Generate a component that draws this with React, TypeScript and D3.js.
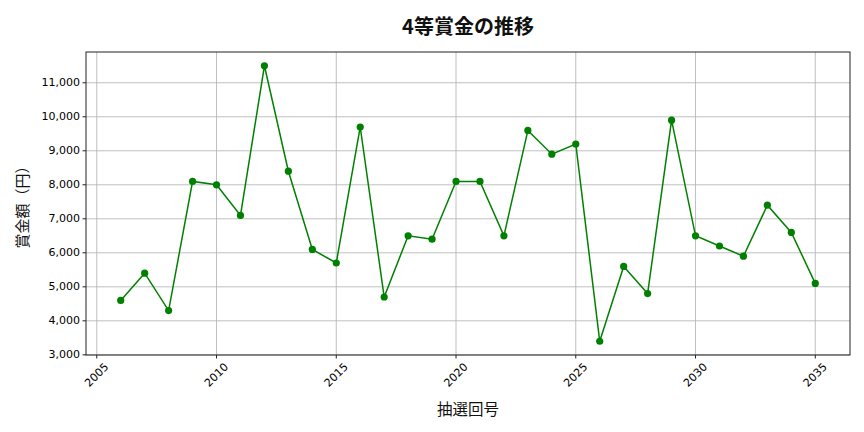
import React from "react";
import * as d3 from "d3";

const W = 864;
const H = 432;
const M = { LEFT: 86, RIGHT: 14, TOP: 52, BOTTOM: 77 };
const FONT = "'Noto Sans CJK JP', 'Noto Sans', sans-serif";
const TICK_FONT = "'DejaVu Sans', sans-serif";

const years = [
  2006, 2007, 2008, 2009, 2010, 2011, 2012, 2013, 2014, 2015,
  2016, 2017, 2018, 2019, 2020, 2021, 2022, 2023, 2024, 2025,
  2026, 2027, 2028, 2029, 2030, 2031, 2032, 2033, 2034, 2035,
];
const prizes = [
  4600, 5400, 4300, 8100, 8000, 7100, 11500, 8400, 6100, 5700,
  9700, 4700, 6500, 6400, 8100, 8100, 6500, 9600, 8900, 9200,
  3400, 5600, 4800, 9900, 6500, 6200, 5900, 7400, 6600, 5100,
];
const xTicks = [2005, 2010, 2015, 2020, 2025, 2030, 2035];
const yTicks = [3000, 4000, 5000, 6000, 7000, 8000, 9000, 10000, 11000];

const TITLE = "4等賞金の推移";
const X_LABEL = "抽選回号";
const Y_LABEL = "賞金額（円）";

const App: React.FC = () => {
  const innerW = W - M.LEFT - M.RIGHT;
  const innerH = H - M.TOP - M.BOTTOM;

  const x = d3.scaleLinear().domain([2004.55, 2036.45]).range([M.LEFT, M.LEFT + innerW]);
  const y = d3.scaleLinear().domain([2995, 11905]).range([M.TOP + innerH, M.TOP]);

  const pts = years.map((yr, i) => ({ yr, v: prizes[i] }));
  const line = d3
    .line<{ yr: number; v: number }>()
    .x((d) => x(d.yr))
    .y((d) => y(d.v));

  const fmt = d3.format(",");
  const bottom = M.TOP + innerH;

  return (
    <svg width={W} height={H} style={{ display: "block", position: "absolute", left: 0, top: 0 }}>
      <rect width={W} height={H} fill="#fff" />
      {/* grid */}
      {xTicks.map((t) => (
        <line key={"gx" + t} x1={x(t)} x2={x(t)} y1={M.TOP} y2={bottom} stroke="#b0b0b0" strokeWidth={0.8} />
      ))}
      {yTicks.map((t) => (
        <line key={"gy" + t} x1={M.LEFT} x2={M.LEFT + innerW} y1={y(t)} y2={y(t)} stroke="#b0b0b0" strokeWidth={0.8} />
      ))}

      {/* series */}
      <path d={line(pts) || ""} fill="none" stroke="green" strokeWidth={1.5} />
      {pts.map((d) => (
        <circle key={d.yr} cx={x(d.yr)} cy={y(d.v)} r={3.6} fill="green" />
      ))}

      {/* frame */}
      <rect x={M.LEFT} y={M.TOP} width={innerW} height={innerH} fill="none" stroke="#222" strokeWidth={1} />

      {/* x ticks */}
      {xTicks.map((t) => (
        <g key={"tx" + t}>
          <line x1={x(t)} x2={x(t)} y1={bottom} y2={bottom + 3.5} stroke="#222" />
          <text
            x={x(t)}
            y={bottom + 20}
            textAnchor="middle"
            dominantBaseline="central"
            transform={`rotate(-45, ${x(t)}, ${bottom + 20})`}
            fontFamily={TICK_FONT}
            fontSize={11}
            fill="#000"
          >
            {t}
          </text>
        </g>
      ))}

      {/* y ticks */}
      {yTicks.map((t) => (
        <g key={"ty" + t}>
          <line x1={M.LEFT - 3.5} x2={M.LEFT} y1={y(t)} y2={y(t)} stroke="#222" />
          <text
            x={M.LEFT - 6}
            y={y(t)}
            textAnchor="end"
            dominantBaseline="central"
            fontFamily={TICK_FONT}
            fontSize={11}
            fill="#000"
          >
            {fmt(t)}
          </text>
        </g>
      ))}

      {/* labels */}
      <text x={M.LEFT + innerW / 2} y={25} textAnchor="middle" dominantBaseline="central" fontFamily={FONT} fontSize={20} fontWeight="bold" fill="#111">
        {TITLE}
      </text>
      <text x={M.LEFT + innerW / 2} y={408} textAnchor="middle" dominantBaseline="central" fontFamily={FONT} fontSize={15.5} fill="#111">
        {X_LABEL}
      </text>
      <text
        x={21}
        y={M.TOP + innerH / 2}
        textAnchor="middle"
        dominantBaseline="central"
        transform={`rotate(-90, 21, ${M.TOP + innerH / 2})`}
        fontFamily={FONT}
        fontSize={15}
        fill="#111"
      >
        {Y_LABEL}
      </text>
    </svg>
  );
};

export default App;
